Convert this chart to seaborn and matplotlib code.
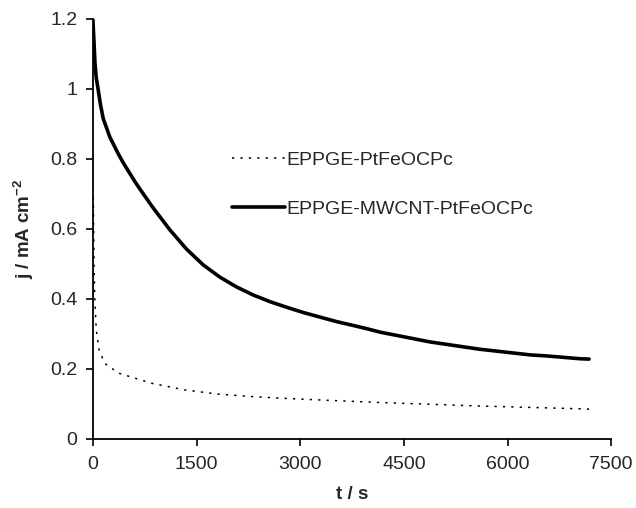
import numpy as np
import pandas as pd
import matplotlib
matplotlib.use("Agg")
import matplotlib.pyplot as plt
import seaborn as sns

# Datos (t en s, j en mA cm-2)
t_plain = [0, 10, 20, 30, 50, 90, 170, 370, 850, 1330, 1810, 2300, 2750,
           3430, 4150, 4880, 5600, 6330, 7050, 7180]
j_plain = [0.81, 0.62, 0.47, 0.39, 0.31, 0.255, 0.216, 0.188, 0.159, 0.140,
           0.128, 0.121, 0.116, 0.110, 0.104, 0.099, 0.094, 0.090, 0.086, 0.085]

t_cnt = [0, 10, 20, 30, 50, 75, 110, 150, 246, 366, 439, 608, 680, 850, 922,
         1115, 1356, 1597, 1839, 2080, 2321, 2563, 2804, 3045, 3286, 3528,
         3769, 4000, 4155, 4879, 5603, 6327, 6568, 7051, 7180]
j_cnt = [1.20, 1.16, 1.12, 1.075, 1.03, 1.00, 0.955, 0.915, 0.862, 0.815, 0.789,
         0.735, 0.714, 0.666, 0.647, 0.597, 0.542, 0.497, 0.462, 0.434, 0.411,
         0.392, 0.376, 0.361, 0.348, 0.335, 0.324, 0.313, 0.305, 0.277, 0.256,
         0.240, 0.237, 0.229, 0.228]

label_plain = "EPPGE-PtFeOCPc"
label_cnt = "EPPGE-MWCNT-PtFeOCPc"

x_ticks = [0, 1500, 3000, 4500, 6000, 7500]
y_ticks = [0, 0.2, 0.4, 0.6, 0.8, 1.0, 1.2]
y_labels = ["0", "0.2", "0.4", "0.6", "0.8", "1", "1.2"]

sns.set_style("ticks")
plt.rcParams["font.family"] = ["Liberation Sans", "DejaVu Sans"]

fig = plt.figure(figsize=(6.36, 5.08), dpi=100)
ax = fig.add_axes([0.146, 0.136, 0.815, 0.827])

df_plain = pd.DataFrame({"t": t_plain, "j": j_plain})
df_cnt = pd.DataFrame({"t": t_cnt, "j": j_cnt})

sns.lineplot(data=df_plain, x="t", y="j", ax=ax, color="black", lw=1.1,
             linestyle=(0, (1.5, 4)), label=label_plain)
sns.lineplot(data=df_cnt, x="t", y="j", ax=ax, color="black", lw=2.6,
             label=label_cnt)

ax.set_xlim(0, 7500)
ax.set_ylim(0, 1.2)
ax.set_xticks(x_ticks)
ax.set_yticks(y_ticks)
ax.set_yticklabels(y_labels)
ax.tick_params(labelsize=14, length=5, width=1.2, color="black")
ax.tick_params(axis="x", pad=7)
ax.tick_params(axis="y", pad=6)
sns.despine(ax=ax)
for s in ["left", "bottom"]:
    ax.spines[s].set_linewidth(1.3)
    ax.spines[s].set_color("black")

ax.set_xlabel("t / s", fontsize=13.5, fontweight="bold", labelpad=10)
ax.set_ylabel("j / mA cm$^{\\mathregular{-2}}$", fontsize=13.5, fontweight="bold", labelpad=10)

ax.legend(loc="upper left", bbox_to_anchor=(0.365, 0.702),
          bbox_transform=fig.transFigure, frameon=False, fontsize=14,
          handlelength=2.7, handletextpad=0.1, labelspacing=1.6,
          borderpad=0, borderaxespad=0)

fig.savefig("out.png", dpi=100)
